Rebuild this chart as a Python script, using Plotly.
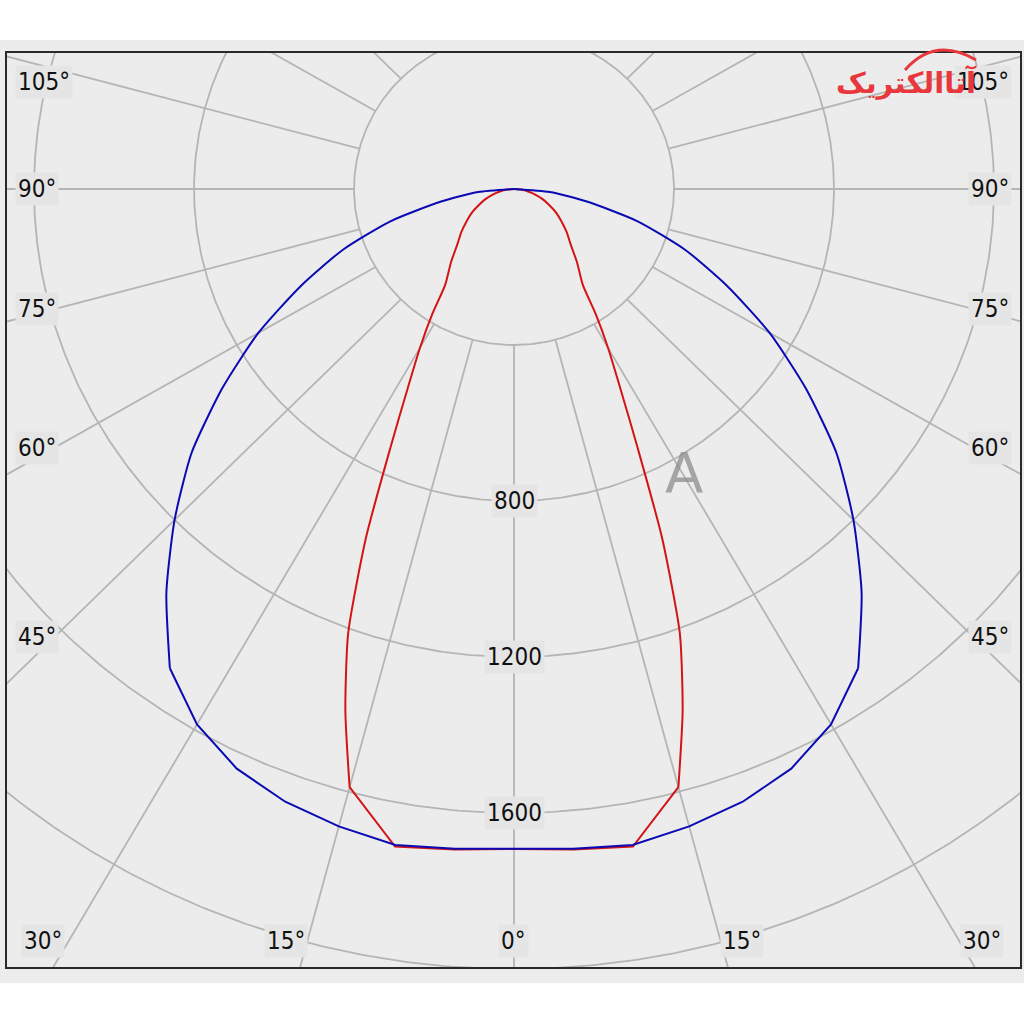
import numpy as np
import plotly.graph_objects as go

# ---------------- data ----------------
# Luminous intensity (cd) vs angle from nadir (deg), symmetric planes
angles_blue = [0, 5, 10, 15, 20, 25, 30, 35, 40, 45, 50, 55, 60, 65, 70, 75, 80, 85, 90]
intensity_blue = [1692, 1698, 1708, 1692, 1672, 1640, 1585, 1500, 1352, 1200, 1052, 890,
                  738, 588, 455, 320, 185, 90, 0]

angles_red = [0, 5, 10, 15, 17.5, 20, 22.5, 25, 27.5, 30, 32.5, 35, 40, 45, 50, 55, 60,
              65, 70, 75, 80, 85, 90]
intensity_red = [1692, 1700, 1712, 1588, 1402, 1212, 966, 730, 575, 470, 380, 300, 245,
                 200, 172, 145, 122, 97, 76, 55, 36, 18, 0]

radial_grid = [400, 800, 1200, 1600, 2000]
radial_labels = [800, 1200, 1600]
angle_grid = list(range(-180, 181, 15))
side_angle_labels = [105, 90, 75, 60, 45]
bottom_angle_labels = [30, 15, 0, 15, 30]

# ---------------- helpers ----------------
W = H = 1024
PLOT_BG = "#e5e5e5"
GRID = "#b5b5b5"
FONT = "DejaVu Sans Condensed, DejaVu Sans, Liberation Sans, sans-serif"


def to_xy(theta_deg, r):
    t = np.radians(np.asarray(theta_deg, dtype=float))
    r = np.asarray(r, dtype=float)
    return r * np.sin(t), -r * np.cos(t)


def P(px, py):
    return px / W, 1 - py / H


def add_curve(fig, angles, values, kink, color, name):
    """Draw a symmetric curve: straight segments below the kink angle,
    smoothed above it (as in the source diagram)."""
    a = np.asarray(angles, dtype=float)
    v = np.asarray(values, dtype=float)
    low = a <= kink
    high = a >= kink
    # bottom part, linear, from -kink to +kink
    th = np.concatenate([-a[low][::-1], a[low][1:]])
    rr = np.concatenate([v[low][::-1], v[low][1:]])
    x, y = to_xy(th, rr)
    fig.add_trace(go.Scatter(x=x, y=y, mode="lines", line=dict(color=color, width=2),
                             name=name, showlegend=False))
    # upper parts, smoothed
    for sgn in (1, -1):
        x, y = to_xy(sgn * a[high], v[high])
        fig.add_trace(go.Scatter(x=x, y=y, mode="lines",
                                 line=dict(color=color, width=2, shape="spline",
                                           smoothing=0.6),
                                 name=name, showlegend=False))


fig = go.Figure()

# grid circles
gx, gy = [], []
tt = np.linspace(0, 360, 721)
for r in radial_grid:
    x, y = to_xy(tt, np.full_like(tt, r))
    gx += list(x) + [None]
    gy += list(y) + [None]
# radial spokes (start at the first circle)
for a in angle_grid:
    x, y = to_xy([a, a], [radial_grid[0], 4000])
    gx += list(x) + [None]
    gy += list(y) + [None]
fig.add_trace(go.Scatter(x=gx, y=gy, mode="lines", line=dict(color=GRID, width=1.8),
                         hoverinfo="skip", showlegend=False))

# curves
add_curve(fig, angles_red, intensity_red, 15, "#d41414", "C90-C270")
add_curve(fig, angles_blue, intensity_blue, 35, "#0a0ab4", "C0-C180")

# ---------------- layout ----------------
ox, oy = 514, 189          # pixel position of polar origin
sx, sy = 0.4, 0.39         # pixels per cd
x_range = [(7 - ox) / sx, (1020 - ox) / sx]
y_range = [-(967 - oy) / sy, (oy - 53) / sy]

axis_common = dict(showgrid=False, zeroline=False, showticklabels=False, ticks="",
                   showline=True, mirror=True, linecolor="#2a2a2a", linewidth=2,
                   fixedrange=True)

annotations = []
lab_font = dict(family=FONT, size=24, color="#111111")

left_pos = {105: (44, 82), 90: (37, 189), 75: (37, 309), 60: (37, 448), 45: (37, 637)}
for a in side_angle_labels:
    lx, ly = left_pos[a]
    for px_ in (lx, W + 3 - lx):
        xx, yy = P(px_, ly)
        annotations.append(dict(x=xx, y=yy, xref="paper", yref="paper", text=f"{a}°",
                                showarrow=False, font=lab_font, bgcolor=PLOT_BG,
                                borderpad=2, xanchor="center", yanchor="middle"))
bottom_x = [43, 286, 513, 742, 982]
for a, bxp in zip(bottom_angle_labels, bottom_x):
    xx, yy = P(bxp, 941)
    annotations.append(dict(x=xx, y=yy, xref="paper", yref="paper", text=f"{a}°",
                            showarrow=False, font=lab_font, bgcolor=PLOT_BG,
                            borderpad=2, xanchor="center", yanchor="middle"))
for r in radial_labels:
    annotations.append(dict(x=0, y=-r, xref="x", yref="y", text=str(r), showarrow=False,
                            font=lab_font, bgcolor=PLOT_BG, borderpad=2,
                            xanchor="center", yanchor="middle"))

# watermark logos
xx, yy = P(906, 82)
annotations.append(dict(x=xx, y=yy, xref="paper", yref="paper", text="<b>آتاالکتریک</b>",
                        showarrow=False, font=dict(family="DejaVu Sans", size=29,
                                                   color="#e8383d"),
                        xanchor="center", yanchor="middle"))
xx, yy = P(684, 472)
annotations.append(dict(x=xx, y=yy, xref="paper", yref="paper", text="A",
                        showarrow=False, font=dict(family="DejaVu Sans", size=56,
                                                   color="rgba(140,140,140,0.75)"),
                        xanchor="center", yanchor="middle"))

shapes = []
y0b, y1b = 1 - 983 / H, 1 - 40 / H
shapes.append(dict(type="rect", xref="paper", yref="paper", x0=0, x1=1, y0=y0b, y1=y1b,
                   fillcolor="#ececec", line=dict(width=0), layer="below"))
# red swoosh above the logo text
a0 = P(905, 70)
c0 = P(935, 36)
a1 = P(976, 60)
shapes.append(dict(type="path", xref="paper", yref="paper",
                   path=f"M {a0[0]},{a0[1]} Q {c0[0]},{c0[1]} {a1[0]},{a1[1]}",
                   line=dict(color="#e8383d", width=3)))

fig.update_layout(
    width=W, height=H,
    margin=dict(l=0, r=0, t=0, b=0),
    paper_bgcolor="white",
    plot_bgcolor=PLOT_BG,
    xaxis=dict(domain=[7 / W, 1020 / W], range=x_range, **axis_common),
    yaxis=dict(domain=[1 - 967 / H, 1 - 53 / H], range=y_range, **axis_common),
    annotations=annotations,
    shapes=shapes,
    showlegend=False,
)

fig.write_html("out.html", config={"displayModeBar": False},
               post_script="document.body.style.margin='0px';document.body.style.padding='0px';")
